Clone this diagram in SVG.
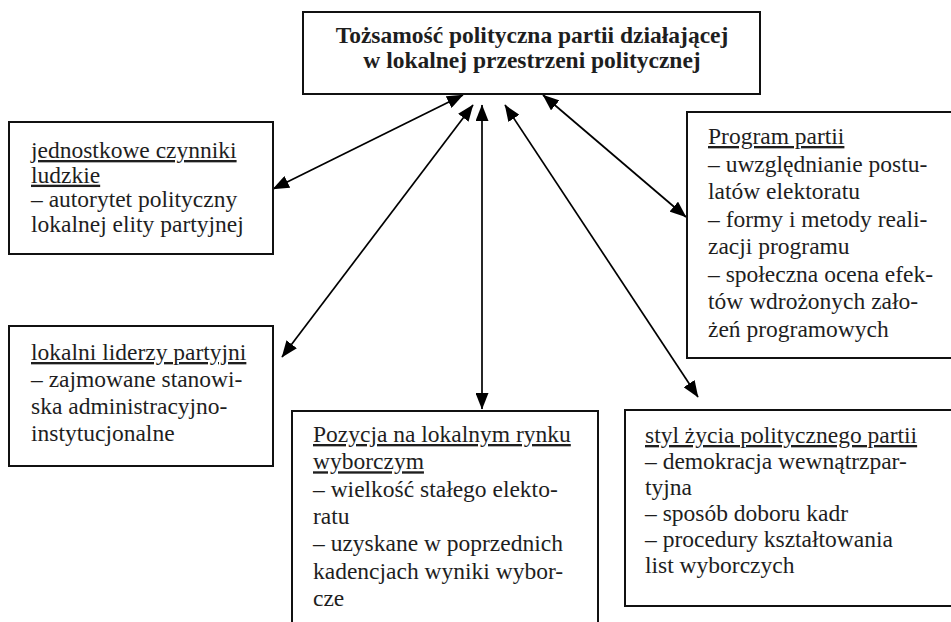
<svg xmlns="http://www.w3.org/2000/svg" width="951" height="622" viewBox="0 0 951 622">
<style>
.box{fill:#fff;stroke:#111;stroke-width:2}
.t{font-size:23.5px;fill:#1e1e1e}
.b{font-weight:bold;text-anchor:middle}
.u{text-decoration:underline;text-decoration-thickness:2px}
.c{stroke:#000;stroke-width:1.7;fill:none;marker-start:url(#ah);marker-end:url(#ah)}
</style>
<defs>
<marker id="ah" markerUnits="userSpaceOnUse" markerWidth="17" markerHeight="13" refX="16" refY="6.5" orient="auto-start-reverse" viewBox="0 0 17 13">
<path d="M0,0 L16.5,6.5 L0,13 z" fill="#000"/>
</marker>
</defs>
<rect width="951" height="622" fill="#fff"/>
<g id="connectors">
<line class="c" x1="463" y1="95" x2="273" y2="189"/>
<line class="c" x1="473" y1="105" x2="282" y2="357"/>
<line class="c" x1="482" y1="105" x2="482" y2="409"/>
<line class="c" x1="505" y1="105" x2="698" y2="397"/>
<line class="c" x1="543" y1="95" x2="686" y2="217"/>
</g>
<g font-family="'Liberation Serif', 'Times New Roman', Tinos, 'DejaVu Serif', serif">
<g id="top">
<rect class="box" x="303" y="12" width="457" height="82"/>
<text class="t b" x="532" y="43">Tożsamość polityczna partii działającej</text>
<text class="t b" x="532" y="68">w lokalnej przestrzeni politycznej</text>
</g>
<g id="jednostkowe">
<rect class="box" x="9" y="122" width="264" height="132"/>
<text class="t" x="31" y="158"><tspan class="u">jednostkowe czynniki</tspan><tspan class="u" x="31" dy="24.7">ludzkie</tspan><tspan x="31" dy="24.7">– autorytet polityczny</tspan><tspan x="31" dy="24.7">lokalnej elity partyjnej</tspan></text>
</g>
<g id="liderzy">
<rect class="box" x="9" y="326" width="264" height="140"/>
<text class="t" x="31" y="360"><tspan class="u">lokalni liderzy partyjni</tspan><tspan x="31" dy="27">– zajmowane stanowi-</tspan><tspan x="31" dy="27">ska administracyjno-</tspan><tspan x="31" dy="27">instytucjonalne</tspan></text>
</g>
<g id="program">
<rect class="box" x="687" y="112" width="270" height="246"/>
<text class="t" x="708" y="144"><tspan class="u">Program partii</tspan><tspan x="708" dy="27.5">– uwzględnianie postu-</tspan><tspan x="708" dy="27.5">latów elektoratu</tspan><tspan x="708" dy="27.5">– formy i metody reali-</tspan><tspan x="708" dy="27.5">zacji programu</tspan><tspan x="708" dy="27.5">– społeczna ocena efek-</tspan><tspan x="708" dy="27.5">tów wdrożonych zało-</tspan><tspan x="708" dy="27.5">żeń programowych</tspan></text>
</g>
<g id="pozycja">
<rect class="box" x="292" y="411" width="306" height="220"/>
<text class="t" x="313" y="442"><tspan class="u">Pozycja na lokalnym rynku</tspan><tspan class="u" x="313" dy="27.3">wyborczym</tspan><tspan x="313" dy="27.3">– wielkość stałego elekto-</tspan><tspan x="313" dy="27.3">ratu</tspan><tspan x="313" dy="27.3">– uzyskane w poprzednich</tspan><tspan x="313" dy="27.3">kadencjach wyniki wybor-</tspan><tspan x="313" dy="27.3">cze</tspan></text>
</g>
<g id="styl">
<rect class="box" x="625" y="410" width="332" height="196"/>
<text class="t" x="645" y="443"><tspan class="u">styl życia politycznego partii</tspan><tspan x="645" dy="26">– demokracja wewnątrzpar-</tspan><tspan x="645" dy="26">tyjna</tspan><tspan x="645" dy="26">– sposób doboru kadr</tspan><tspan x="645" dy="26">– procedury kształtowania</tspan><tspan x="645" dy="26">list wyborczych</tspan></text>
</g>
</g>
</svg>
